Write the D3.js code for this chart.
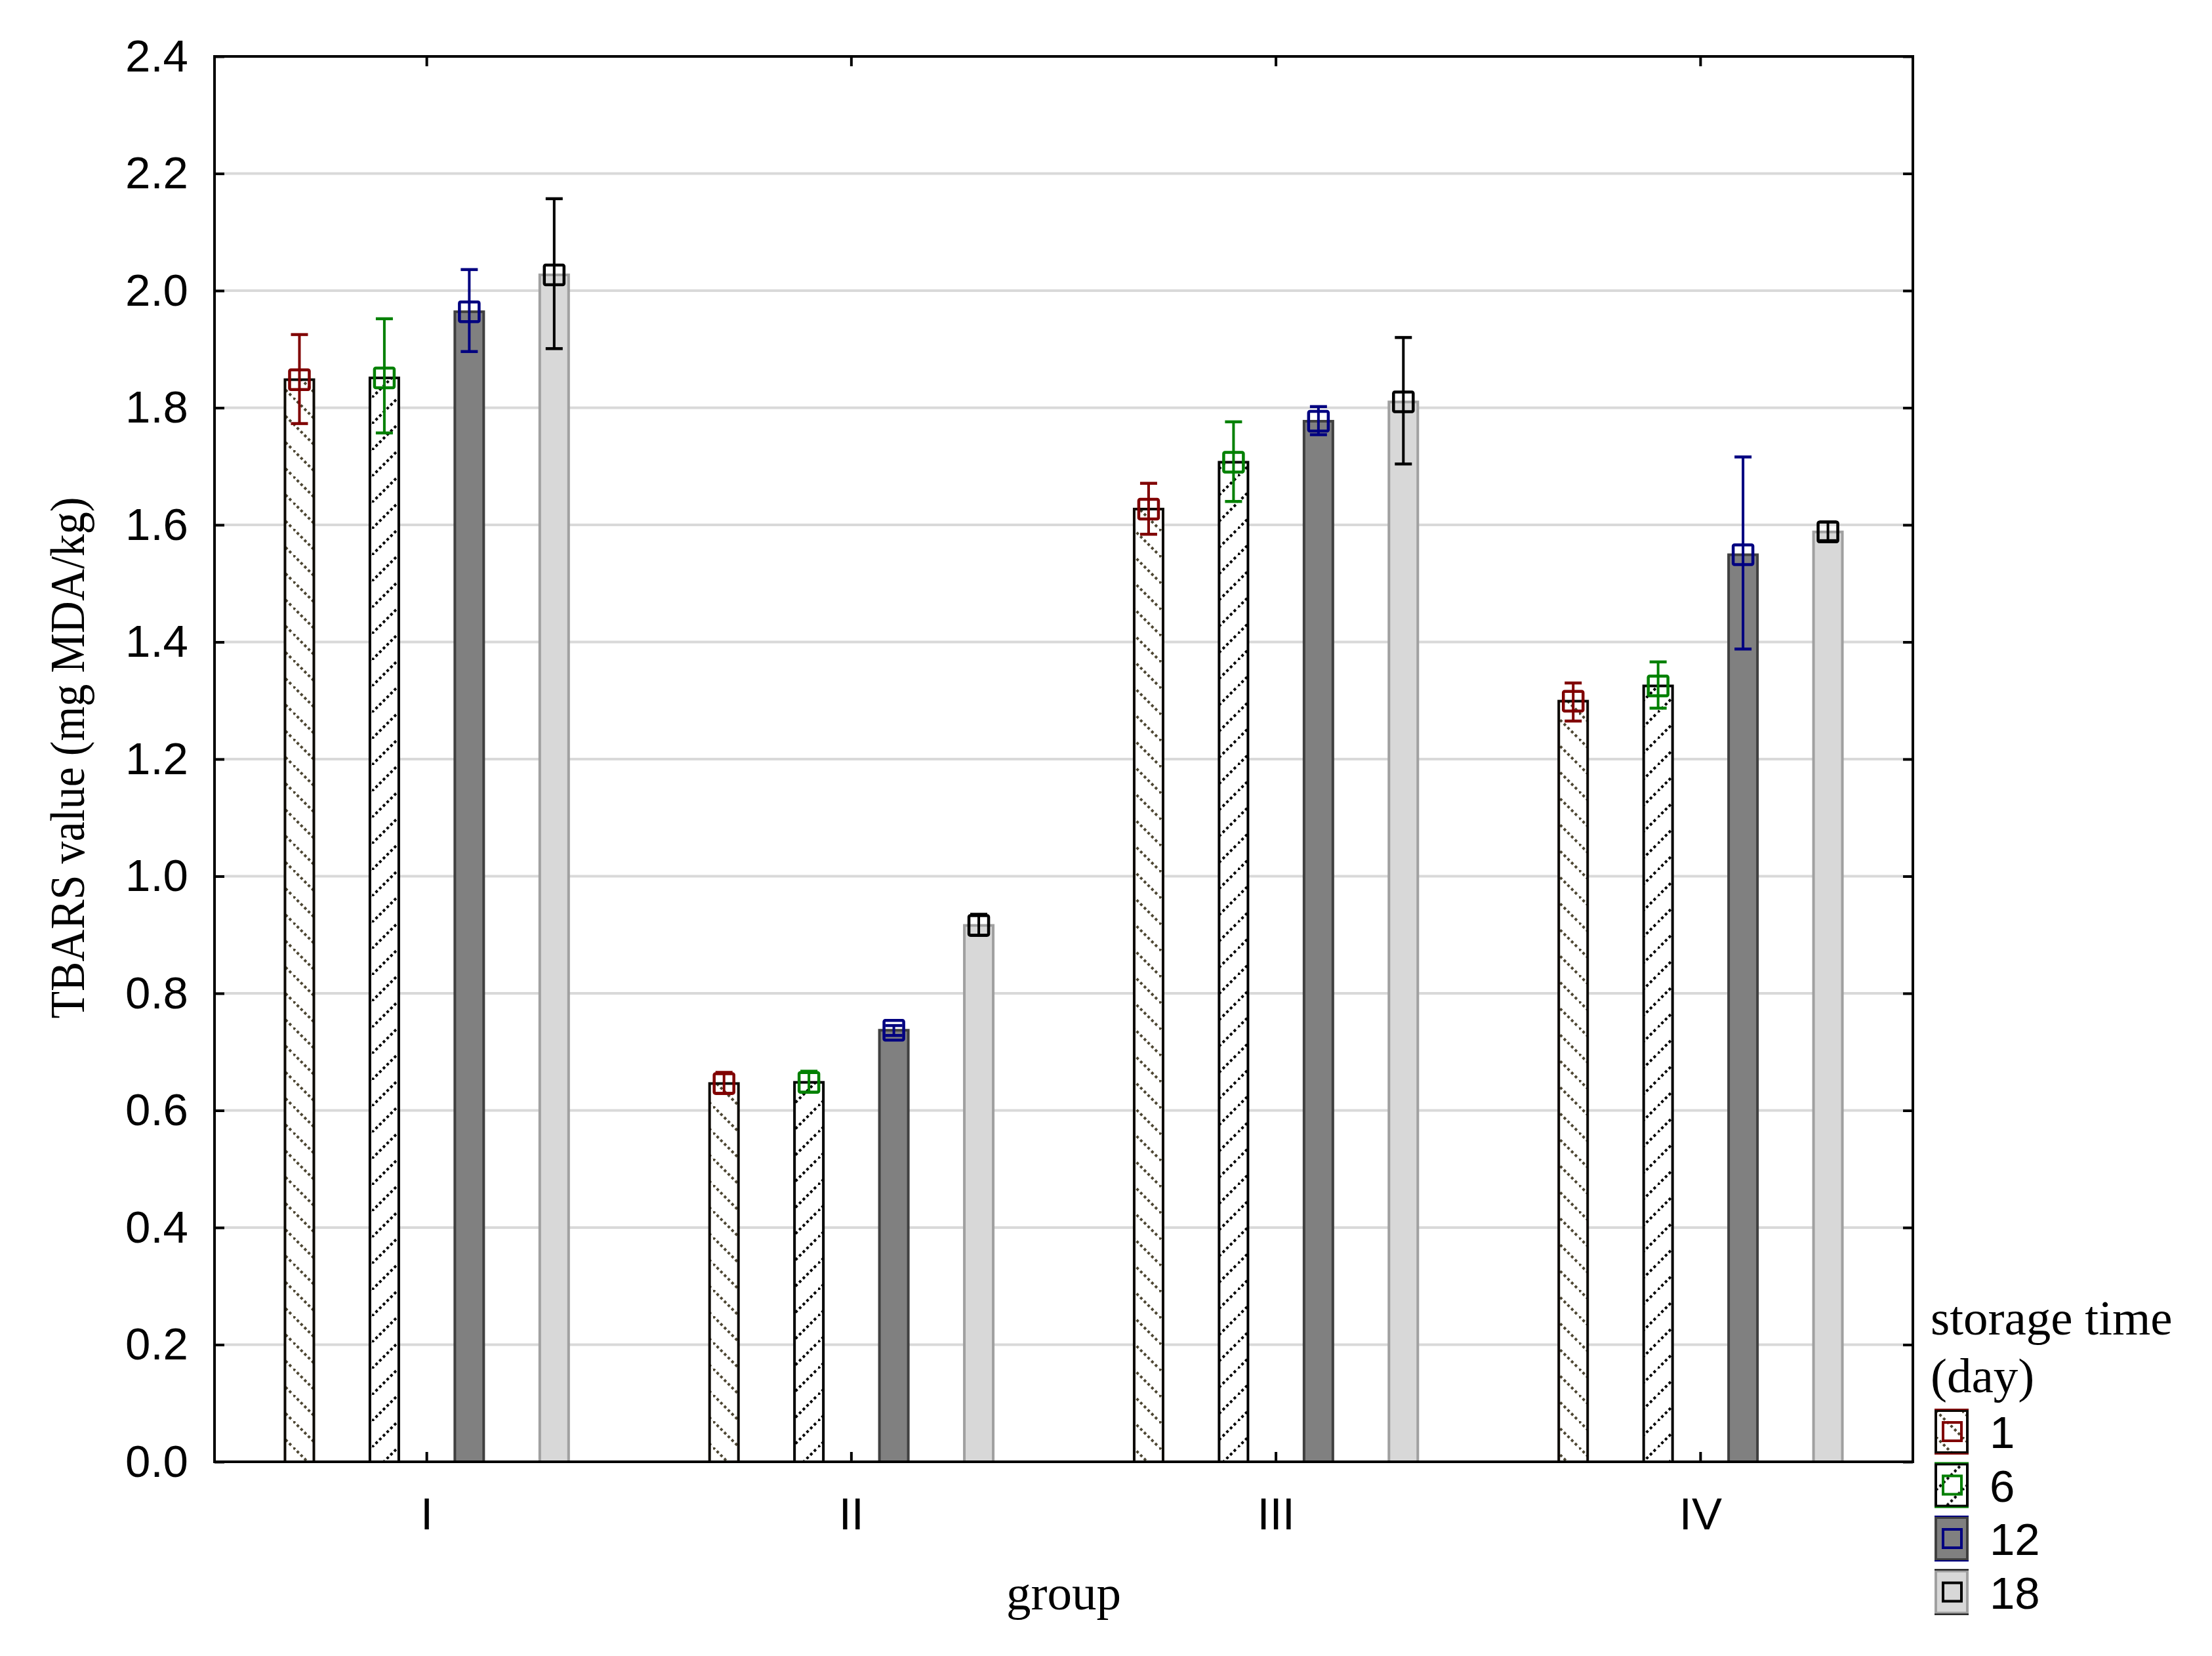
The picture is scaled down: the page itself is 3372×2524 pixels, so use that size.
<!DOCTYPE html>
<html>
<head>
<meta charset="utf-8">
<script src="https://cdn.jsdelivr.net/npm/d3@7"></script>
<style>
  body { margin: 0; background: #fff; }
  svg { display: block; }
</style>
</head>
<body>
<svg id="chart"></svg>
<script>
// groups on the x axis and storage days (series)
const groups = ['I', 'II', 'III', 'IV'];
const days = ['1', '6', '12', '18'];

// mean TBARS values per day, one entry per group
const day1Mean  = [1.848, 0.646, 1.627, 1.299];
const day6Mean  = [1.851, 0.648, 1.707, 1.325];
const day12Mean = [1.964, 0.737, 1.777, 1.549];
const day18Mean = [2.027, 0.916, 1.810, 1.588];

// error bar ends (upper / lower)
const day1Hi  = [1.925, 0.665, 1.671, 1.330];
const day1Lo  = [1.773, 0.629, 1.584, 1.265];
const day6Hi  = [1.952, 0.667, 1.776, 1.366];
const day6Lo  = [1.757, 0.631, 1.640, 1.287];
const day12Hi = [2.036, 0.745, 1.802, 1.716];
const day12Lo = [1.896, 0.728, 1.754, 1.388];
const day18Hi = [2.157, 0.935, 1.920, 1.605];
const day18Lo = [1.901, 0.899, 1.704, 1.573];

const yTicks = [0, 0.2, 0.4, 0.6, 0.8, 1.0, 1.2, 1.4, 1.6, 1.8, 2.0, 2.2, 2.4];

const means = [day1Mean, day6Mean, day12Mean, day18Mean];
const his = [day1Hi, day6Hi, day12Hi, day18Hi];
const los = [day1Lo, day6Lo, day12Lo, day18Lo];

// look of each series
const fills = ['url(#hatchBack)', 'url(#hatchFwd)', '#808080', '#d8d8d8'];
const strokes = ['#0d0a05', '#000000', '#404040', '#a0a0a0'];
const markColors = ['#800000', '#008000', '#000080', '#000000'];

const W = 3372, H = 2524;
const margin = { top: 86, right: 456, bottom: 296, left: 327 };
const innerW = W - margin.left - margin.right;
const innerH = H - margin.top - margin.bottom;

const svg = d3.select('#chart').attr('width', W).attr('height', H);

// hatch patterns for day 1 and day 6
const defs = svg.append('defs');
const p1 = defs.append('pattern').attr('id', 'hatchBack')
    .attr('patternUnits', 'userSpaceOnUse').attr('width', 40).attr('height', 40);
p1.append('rect').attr('width', 40).attr('height', 40).attr('fill', '#fff');
p1.append('line').attr('x1', 0).attr('y1', 0).attr('x2', 40).attr('y2', 40)
    .attr('stroke', '#4d4632').attr('stroke-width', 4).attr('stroke-dasharray', '4,4');
const p2 = defs.append('pattern').attr('id', 'hatchFwd')
    .attr('patternUnits', 'userSpaceOnUse').attr('width', 40).attr('height', 40);
p2.append('rect').attr('width', 40).attr('height', 40).attr('fill', '#fff');
p2.append('line').attr('x1', 0).attr('y1', 40).attr('x2', 40).attr('y2', 0)
    .attr('stroke', '#000').attr('stroke-width', 4).attr('stroke-dasharray', '4,4');

const g = svg.append('g').attr('transform', `translate(${margin.left},${margin.top})`);

const x0 = d3.scaleBand().domain(groups).range([0, innerW]).padding(0);
const x1 = d3.scaleBand().domain(days)
    .range([x0.bandwidth() * 0.1, x0.bandwidth() * 0.9]).padding(0);
const y = d3.scaleLinear().domain([0, 2.4]).range([innerH, 0]);

// gridlines
g.append('g').selectAll('line')
    .data(yTicks.filter(t => t > 0 && t < 2.4))
    .enter().append('line')
    .attr('x1', 0).attr('x2', innerW)
    .attr('y1', d => y(d)).attr('y2', d => y(d))
    .attr('stroke', '#d9d9d9').attr('stroke-width', 4);

// flatten into one record per bar
const rows = [];
days.forEach((day, s) => {
    groups.forEach((grp, i) => {
        rows.push({ s, grp, day, mean: means[s][i], hi: his[s][i], lo: los[s][i] });
    });
});

const barW = 44;
const cx = d => x0(d.grp) + x1(d.day) + x1.bandwidth() / 2;

g.append('g').selectAll('rect')
    .data(rows)
    .enter().append('rect')
    .attr('x', d => cx(d) - barW / 2)
    .attr('y', d => y(d.mean))
    .attr('width', barW)
    .attr('height', d => y(0) - y(d.mean))
    .attr('fill', d => fills[d.s])
    .attr('stroke', d => strokes[d.s])
    .attr('stroke-width', 4);

// error bars
const eb = g.append('g').selectAll('g')
    .data(rows)
    .enter().append('g')
    .attr('stroke', d => markColors[d.s])
    .attr('fill', 'none');

eb.append('line')
    .attr('x1', cx).attr('x2', cx)
    .attr('y1', d => y(d.hi)).attr('y2', d => y(d.lo))
    .attr('stroke-width', 4);
eb.append('line')
    .attr('x1', d => cx(d) - 13).attr('x2', d => cx(d) + 13)
    .attr('y1', d => y(d.hi)).attr('y2', d => y(d.hi))
    .attr('stroke-width', 4.5);
eb.append('line')
    .attr('x1', d => cx(d) - 13).attr('x2', d => cx(d) + 13)
    .attr('y1', d => y(d.lo)).attr('y2', d => y(d.lo))
    .attr('stroke-width', 4.5);
eb.append('rect')
    .attr('x', d => cx(d) - 15).attr('y', d => y(d.mean) - 15)
    .attr('width', 30).attr('height', 30)
    .attr('rx', 2)
    .attr('stroke-width', 4.5);

// axes: ticks point inward, frame drawn separately
const tickFont = '"Liberation Sans", Arial, sans-serif';

const yAxis = g.append('g')
    .call(d3.axisLeft(y).tickValues(yTicks).tickFormat(d3.format('.1f'))
        .tickSize(-15).tickPadding(40));
const yAxisR = g.append('g').attr('transform', `translate(${innerW},0)`)
    .call(d3.axisRight(y).tickValues(yTicks).tickFormat('').tickSize(-15));
const xAxis = g.append('g').attr('transform', `translate(0,${innerH})`)
    .call(d3.axisBottom(x0).tickSize(-15).tickPadding(54));
const xAxisT = g.append('g')
    .call(d3.axisTop(x0).tickFormat('').tickSize(-15));

[yAxis, yAxisR, xAxis, xAxisT].forEach(a => {
    a.select('.domain').remove();
    a.selectAll('.tick line').attr('stroke', '#000').attr('stroke-width', 4);
    a.selectAll('text').attr('font-family', tickFont).attr('font-size', 69).attr('fill', '#000');
});

g.append('rect')
    .attr('width', innerW).attr('height', innerH)
    .attr('fill', 'none').attr('stroke', '#000').attr('stroke-width', 4);

// axis titles
const serif = '"Liberation Serif", "Times New Roman", serif';
svg.append('text')
    .attr('x', margin.left + innerW / 2).attr('y', 2453)
    .attr('text-anchor', 'middle')
    .attr('font-family', serif).attr('font-size', 75)
    .text('group');

svg.append('text')
    .attr('transform', 'translate(128,1155) rotate(-90)')
    .attr('text-anchor', 'middle')
    .attr('font-family', serif).attr('font-size', 75)
    .attr('textLength', 795).attr('lengthAdjust', 'spacingAndGlyphs')
    .text('TBARS value (mg MDA/kg)');

// legend
const legend = svg.append('g');
legend.append('text')
    .attr('x', 2943).attr('y', 2034)
    .attr('font-family', serif).attr('font-size', 75)
    .text('storage time');
legend.append('text')
    .attr('x', 2943).attr('y', 2122)
    .attr('font-family', serif).attr('font-size', 75)
    .text('(day)');

const item = legend.selectAll('.item')
    .data(days)
    .enter().append('g')
    .attr('class', 'item')
    .attr('transform', (d, i) => `translate(2951,${2150 + i * 81.5})`);

item.append('rect')
    .attr('width', 48).attr('height', 64)
    .attr('fill', (d, i) => fills[i])
    .attr('stroke', (d, i) => strokes[i])
    .attr('stroke-width', 4);
item.append('line')
    .attr('x1', -2).attr('x2', 50).attr('y1', -2).attr('y2', -2)
    .attr('stroke', (d, i) => markColors[i]).attr('stroke-width', 2);
item.append('line')
    .attr('x1', -2).attr('x2', 50).attr('y1', 66).attr('y2', 66)
    .attr('stroke', (d, i) => markColors[i]).attr('stroke-width', 2);
item.append('rect')
    .attr('x', 11).attr('y', 18).attr('width', 28).attr('height', 28)
    .attr('fill', 'none')
    .attr('stroke', (d, i) => markColors[i]).attr('stroke-width', 4);
item.append('text')
    .attr('x', 82).attr('y', 57)
    .attr('font-family', tickFont).attr('font-size', 69)
    .text(d => d);
</script>
</body>
</html>
